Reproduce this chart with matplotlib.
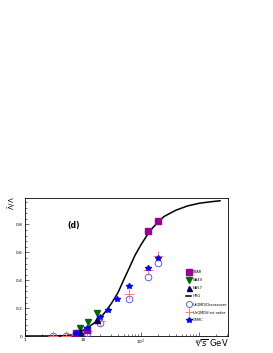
import numpy as np
import matplotlib
matplotlib.use('Agg')
import matplotlib.pyplot as plt
from matplotlib.ticker import FixedLocator

# HRG curve
hrg_x = [1, 3, 5, 6.3, 7.9, 10, 12.6, 15.8, 20, 25, 31.6, 40, 50, 63, 79, 100,
         126, 158, 200, 251, 398, 631, 1000, 1585, 2300]
hrg_y = [0, 0, 0.002, 0.008, 0.02, 0.04, 0.065, 0.095, 0.13, 0.18, 0.24, 0.31,
         0.40, 0.49, 0.58, 0.655, 0.72, 0.775, 0.82, 0.858, 0.902, 0.933, 0.952,
         0.963, 0.97]

# data points
star_x = [7.7, 11.5, 130, 200]
star_y = [0.02, 0.045, 0.754, 0.826]
na49_x = [8.8, 12.3, 17.3]
na49_y = [0.06, 0.10, 0.165]
na57_x = [8.8, 17.3]
na57_y = [0.03, 0.115]
urqmd_x = [3.0, 5.0, 7.7, 11.5, 19.6, 62.4, 130, 200]
urqmd_cross_y = [0.0, 0.0, 0.01, 0.025, 0.093, 0.266, 0.42, 0.525]
urqmd_first_y = [0.0, 0.0, 0.012, 0.035, 0.11, 0.30, 0.477, 0.573]
crmc_x = [7.7, 11.5, 19.6, 27, 39, 62.4, 130, 200]
crmc_y = [0.02, 0.06, 0.137, 0.19, 0.263, 0.357, 0.49, 0.558]

fig = plt.figure(figsize=(2.73, 3.53), dpi=100)
ax = fig.add_axes([25/273, 1-336/353, 203/273, 138/353])

ax.plot(star_x, star_y, 's', color='#990099', ms=4.6, label='STAR', zorder=5)
ax.plot(na49_x, na49_y, 'v', color='#006600', ms=4.4, label='NA49', zorder=5)
ax.plot(na57_x, na57_y, '^', color='#000066', ms=4.0, label='NA57', zorder=5)
ax.plot(hrg_x, hrg_y, '-', color='black', lw=1.1, label='HRG', zorder=3)
ax.plot(urqmd_x, urqmd_cross_y, 'o', mfc='none', mec='#4444ff', mew=0.6, ms=4.8,
        label='UrQMD/Dcrossover', zorder=4)
ax.plot(urqmd_x, urqmd_first_y, '+', color='#ff7777', mew=0.7, ms=6.5,
        label='UrQMD/first order', zorder=4)
ax.plot(crmc_x, crmc_y, '*', color='#0000ff', ms=4.3, label='CRMC', zorder=6)

ax.set_xscale('log')
ax.set_xlim(1, 3160)
ax.set_ylim(0, 0.99)

ax.xaxis.set_major_locator(FixedLocator([1, 10, 100, 1000]))
ax.set_xticklabels(['1', '10', r'$10^2$', r'$10^3$'])
ax.yaxis.set_major_locator(FixedLocator([0, 0.2, 0.4, 0.6, 0.8]))
ax.set_yticklabels(['0', '0.2', '0.4', '0.6', '0.8'])
ax.yaxis.set_minor_locator(FixedLocator(np.arange(0, 0.99, 0.04)))
ax.tick_params(which='both', direction='in', labelsize=3.2, pad=1.5, width=0.4)
ax.tick_params(which='major', length=3)
ax.tick_params(which='minor', length=1.5)
for s in ax.spines.values():
    s.set_linewidth(0.6)

ax.text(0.21, 0.78, '(d)', transform=ax.transAxes, fontsize=5.5, fontweight='bold')

fig.text(12/273, 1-203/353, r'$\bar{\Lambda}/\Lambda$', rotation=90, fontsize=5,
         ha='center', va='center')
fig.text(229/273, 1-343/353, r'$\sqrt{s}$ GeV', fontsize=6, ha='right', va='center')

ax.legend(loc='upper left', bbox_to_anchor=(0.785, 0.49), frameon=False, fontsize=2.6,
          handlelength=1.4, handletextpad=0.4, labelspacing=1.12, borderpad=0,
          markerscale=0.9)

fig.savefig('out.png', dpi=100)
